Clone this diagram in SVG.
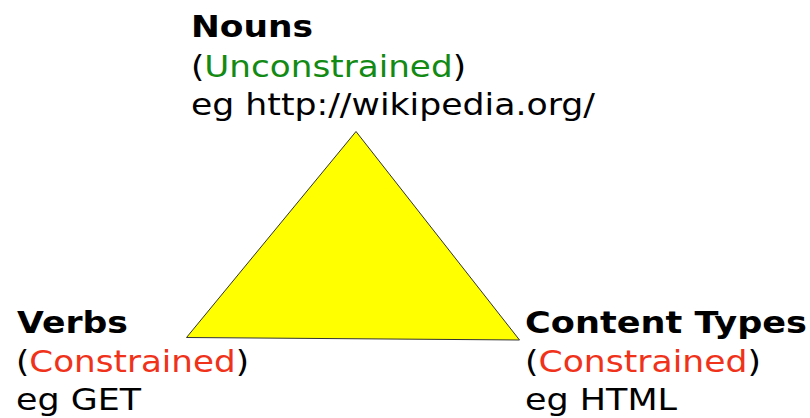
<svg xmlns="http://www.w3.org/2000/svg" width="810" height="418" viewBox="0 0 810 418">
<style>
text{font-family:"DejaVu Sans",sans-serif;font-size:30px;fill:#000}
.b{font-weight:bold}
.g{fill:#138a13}
.r{fill:#f0321a}
.tri{fill:#ffff00;stroke:#333;stroke-width:1}
</style>
<rect width="810" height="418" fill="#fff"/>
<g id="triangle"><polygon class="tri" points="356,131.5 186.5,337.5 519.5,340"/></g>
<g id="connectors"></g>
<g id="nouns">
<text x="191" y="37" class="b" textLength="122" lengthAdjust="spacingAndGlyphs">Nouns</text>
<text x="191" y="77" textLength="275" lengthAdjust="spacingAndGlyphs">(<tspan class="g">Unconstrained</tspan>)</text>
<text x="191" y="115" textLength="404" lengthAdjust="spacingAndGlyphs">eg http://wikipedia.org/</text>
</g>
<g id="verbs">
<text x="17" y="333" class="b" textLength="111" lengthAdjust="spacingAndGlyphs">Verbs</text>
<text x="16" y="372" textLength="233" lengthAdjust="spacingAndGlyphs">(<tspan class="r">Constrained</tspan>)</text>
<text x="16" y="410" textLength="125" lengthAdjust="spacingAndGlyphs">eg GET</text>
</g>
<g id="content-types">
<text x="525" y="333" class="b" textLength="282" lengthAdjust="spacingAndGlyphs">Content Types</text>
<text x="525" y="372" textLength="236" lengthAdjust="spacingAndGlyphs">(<tspan class="r">Constrained</tspan>)</text>
<text x="525" y="410" textLength="152" lengthAdjust="spacingAndGlyphs">eg HTML</text>
</g>
</svg>
